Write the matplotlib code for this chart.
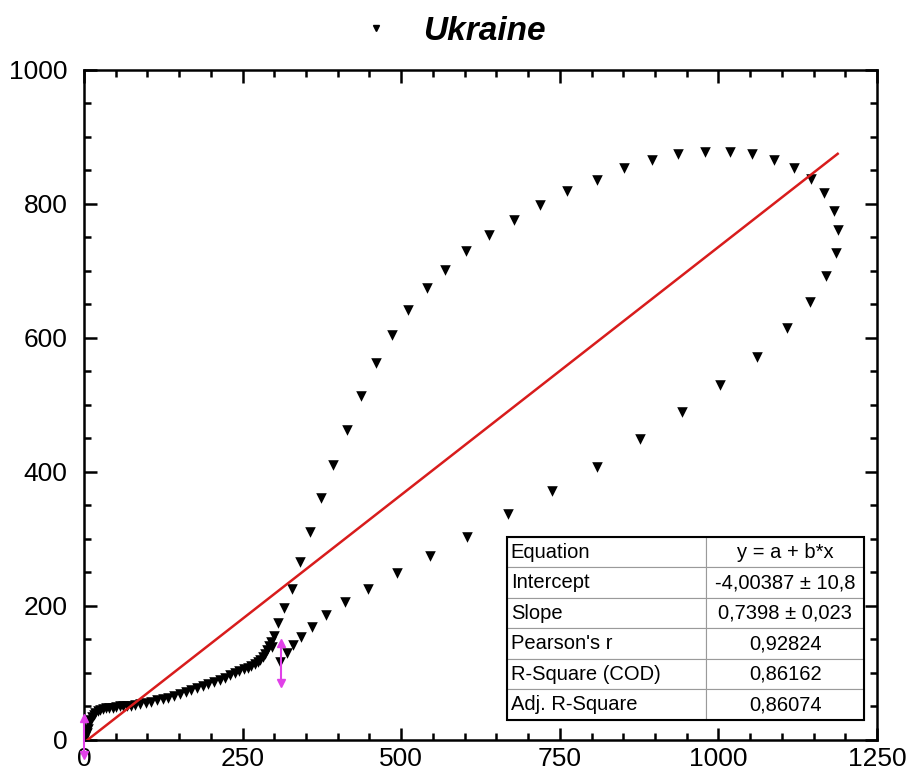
import numpy as np
import matplotlib.pyplot as plt
from matplotlib.lines import Line2D

plt.rcParams['font.family'] = ['Liberation Sans', 'DejaVu Sans']

# early phase (dense lower curve)
low_x = [0, 2, 4, 6, 8, 10, 12, 15, 18, 22, 26, 30, 35, 40, 45, 50, 56, 62, 68,
         74, 80, 88, 97, 106, 115, 124, 133, 142, 151, 160, 169, 178, 187, 196,
         205, 214, 222, 230, 238, 245, 252, 258, 264, 269, 274, 278, 282, 285,
         288, 291, 294]
low_y = [0, 4, 10, 17, 24, 30, 34, 38, 41, 43, 45, 46, 47, 48, 48, 49, 50, 50, 51,
         51, 52, 53, 55, 57, 59, 61, 63, 66, 69, 72, 74, 77, 80, 83,
         86, 90, 93, 97, 100, 103, 106, 108, 111, 114, 117, 120, 124, 129,
         134, 140, 146]

# loop: rising branch, top, falling branch
loop_x = [296, 300, 306, 315, 328, 341, 356, 374, 393, 414, 437, 460, 485, 511,
          541, 569, 602, 638, 677, 719, 762, 808, 851, 895, 937, 979, 1018, 1053,
          1087, 1119, 1146, 1167, 1182, 1188, 1185, 1170, 1145, 1108, 1061, 1003,
          943, 877, 808, 738, 669, 603, 546, 493, 447, 412, 382, 359, 342, 329,
          320, 309]
loop_y = [139, 155, 175, 197, 226, 265, 310, 361, 410, 463, 513, 563, 605, 642,
          674, 702, 730, 754, 776, 799, 819, 836, 853, 865, 874, 878, 878, 874,
          865, 853, 837, 816, 790, 761, 727, 693, 654, 615, 571, 530,
          489, 449, 408, 372, 338, 303, 275, 249, 225, 206, 187, 169, 154, 142,
          130, 117]

# masked points (magenta)
mark_x = [0, 311]
mark_lo = [-22, 85]
mark_hi = [33, 145]

# linear fit
intercept = -4.00387
slope = 0.7398
fit_x = np.array([0, 1188])

table_rows = [["Equation", "y = a + b*x"],
              ["Intercept", "-4,00387 \u00b1 10,8"],
              ["Slope", "0,7398 \u00b1 0,023"],
              ["Pearson's r", "0,92824"],
              ["R-Square (COD)", "0,86162"],
              ["Adj. R-Square", "0,86074"]]

fig = plt.figure(figsize=[9.15, 7.8], dpi=100)
ax = fig.add_axes([0.0918, 0.0513, 0.8667, 0.859])

ax.scatter(low_x + loop_x, low_y + loop_y, marker='v', s=58, color='black',
           linewidths=0, zorder=3)
ax.plot(fit_x, intercept + slope * fit_x, color='#d81c1c', lw=1.8, zorder=4)

mag = '#e040e8'
for mx, lo, hi in zip(mark_x, mark_lo, mark_hi):
    ax.plot([mx, mx], [lo, hi], color=mag, lw=1.5, clip_on=False, zorder=5)
    ax.plot([mx], [hi], marker='^', ms=6, color=mag, clip_on=False, zorder=5)
    ax.plot([mx], [lo], marker='v', ms=6, color=mag, clip_on=False, zorder=5)

ax.set_xlim(0, 1250)
ax.set_ylim(0, 1000)
ax.set_xticks(np.arange(0, 1251, 250))
ax.set_yticks(np.arange(0, 1001, 200))
ax.set_xticks(np.arange(0, 1251, 50), minor=True)
ax.set_yticks(np.arange(0, 1001, 50), minor=True)
ax.tick_params(which='both', direction='in', top=True, right=True, width=1.8)
ax.tick_params(which='major', length=9, labelsize=19)
ax.tick_params(axis='y', which='major', pad=12)
ax.tick_params(axis='x', which='major', pad=5)
ax.tick_params(which='minor', length=5)
for s in ax.spines.values():
    s.set_linewidth(1.8)

tab = ax.table(cellText=table_rows, colWidths=[0.251, 0.199],
               bbox=[0.533, 0.030, 0.451, 0.273], zorder=6)
tab.auto_set_font_size(False)
tab.set_fontsize(14.5)
for (r, c), cell in tab.get_celld().items():
    cell.set_edgecolor('#9a9a9a')
    cell.set_linewidth(0.8)
    cell.set_facecolor('white')
    if c == 0:
        cell.set_text_props(ha='left')
        cell.PAD = 0.02
    else:
        cell.set_text_props(ha='center')
ax.add_patch(plt.Rectangle((0.533, 0.030), 0.451, 0.273, transform=ax.transAxes,
                           fill=False, edgecolor='black', lw=1.5, zorder=7))

handle = Line2D([], [], marker='v', ls='none', color='black', ms=5)
ax.legend([handle], ['Ukraine'], loc='lower center', bbox_to_anchor=(0.465, 1.0),
          frameon=False, handlelength=1.0, handletextpad=0.9, borderaxespad=0.3,
          prop={'size': 24, 'weight': 'bold', 'style': 'italic'})

plt.savefig("out.png")
